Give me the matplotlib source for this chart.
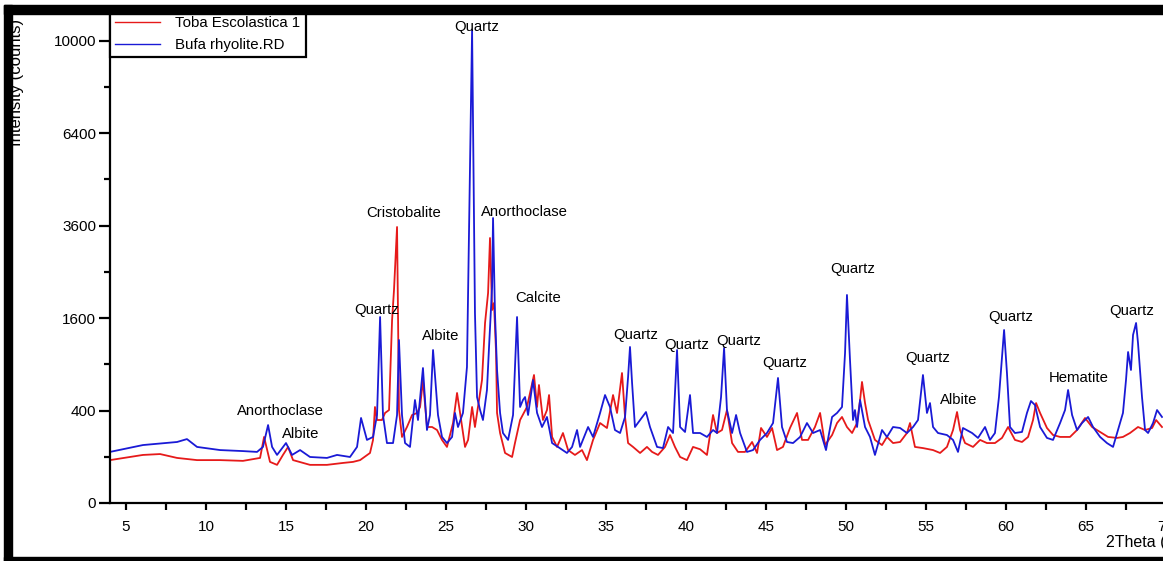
import numpy as np
import matplotlib.pyplot as plt
from matplotlib.patches import Rectangle
from matplotlib.ticker import FixedLocator

# values (2theta in degrees, counts)
toba_theta = [4.0, 6.06, 7.13, 8.19, 9.44, 10.88, 12.31, 13.38, 13.63, 14.0,
              14.44, 14.81, 15.13, 15.44, 16.5, 17.56, 18.56, 19.19, 19.63, 20.25,
              20.44, 20.56, 20.69, 21.0, 21.19, 21.44, 21.63, 21.75, 21.94, 22.0,
              22.06, 22.25, 22.56, 22.88, 23.19, 23.38, 23.56, 23.81, 24.13, 24.44,
              24.75, 25.06, 25.44, 25.69, 25.88, 26.19, 26.38, 26.63, 26.81, 27.0,
              27.25, 27.44, 27.63, 27.75, 27.88, 28.0, 28.13, 28.19, 28.38, 28.69,
              29.13, 29.31, 29.63, 30.06, 30.5, 30.69, 30.81, 31.06, 31.31, 31.44,
              31.63, 31.94, 32.31, 32.63, 33.06, 33.5, 33.81, 34.19, 34.63, 35.06,
              35.44, 35.69, 36.0, 36.19, 36.38, 36.69, 37.13, 37.56, 37.88, 38.25,
              38.69, 39.0, 39.31, 39.63, 40.06, 40.44, 40.88, 41.31, 41.69, 41.94,
              42.25, 42.56, 42.88, 43.25, 43.69, 44.13, 44.44, 44.69, 45.06, 45.38,
              45.69, 46.06, 46.5, 46.94, 47.25, 47.63, 48.06, 48.38, 48.69, 49.13,
              49.44, 49.75, 50.06, 50.38, 50.69, 50.88, 51.0, 51.19, 51.38, 51.81,
              52.25, 52.56, 52.94, 53.38, 53.81, 54.0, 54.31, 54.81, 55.44, 55.88,
              56.31, 56.69, 56.94, 57.13, 57.44, 57.94, 58.38, 58.81, 59.31, 59.75,
              60.13, 60.56, 61.0, 61.38, 61.69, 61.88, 62.13, 62.56, 62.94, 63.38,
              64.0, 64.44, 64.94, 65.38, 65.88, 66.38, 66.94, 67.31, 67.75, 68.25,
              68.69, 69.13, 69.38, 69.75]
toba_counts = [86, 108, 112, 95, 86, 86, 83, 95, 204, 79,
               68, 108, 147, 86, 68, 68, 75, 79, 86, 117,
               186, 431, 322, 322, 379, 404, 1566, 2121, 3561, 1688,
               404, 204, 270, 362, 379, 431, 707, 270, 270, 249,
               186, 147, 299, 566, 379, 147, 186, 431, 270, 431,
               707, 1515, 2062, 3283, 1741, 1870, 1052, 379, 229, 117,
               99, 168, 322, 431, 766, 431, 651, 322, 404, 545,
               204, 147, 229, 131, 108, 131, 86, 186, 299, 263,
               545, 379, 790, 346, 168, 147, 117, 147, 122, 108,
               147, 216, 147, 99, 86, 147, 135, 108, 362, 229,
               249, 404, 168, 122, 122, 174, 117, 263, 204, 263,
               131, 147, 263, 379, 186, 186, 270, 379, 157, 216,
               299, 346, 270, 229, 299, 496, 685, 467, 322, 186,
               157, 204, 168, 174, 229, 299, 147, 141, 131, 117,
               147, 249, 387, 249, 168, 147, 186, 168, 168, 198,
               270, 186, 174, 204, 322, 467, 379, 263, 216, 204,
               204, 249, 338, 270, 236, 204, 198, 204, 229, 270,
               249, 263, 322, 270]

bufa_theta = [4.0, 6.06, 8.19, 8.81, 9.44, 10.88, 12.31, 13.19, 13.56, 13.88,
              14.13, 14.44, 15.0, 15.38, 15.88, 16.5, 17.56, 18.19, 19.0, 19.44,
              19.69, 20.06, 20.44, 20.69, 20.88, 21.06, 21.31, 21.69, 21.94, 22.06,
              22.25, 22.44, 22.75, 23.06, 23.25, 23.56, 23.81, 24.0, 24.19, 24.5,
              24.75, 25.06, 25.38, 25.56, 25.75, 26.06, 26.31, 26.63, 26.81, 26.94,
              27.13, 27.31, 27.56, 27.69, 27.88, 27.94, 28.06, 28.19, 28.38, 28.56,
              28.88, 29.19, 29.44, 29.63, 29.81, 29.94, 30.13, 30.44, 30.69, 31.0,
              31.31, 31.63, 32.0, 32.56, 32.88, 33.19, 33.38, 33.88, 34.19, 34.63,
              34.94, 35.25, 35.56, 35.88, 36.19, 36.38, 36.5, 36.63, 36.81, 37.13,
              37.5, 37.75, 38.19, 38.56, 38.88, 39.19, 39.44, 39.63, 39.94, 40.25,
              40.44, 40.88, 41.31, 41.69, 41.94, 42.19, 42.38, 42.56, 42.88, 43.13,
              43.38, 43.81, 44.19, 44.63, 45.06, 45.44, 45.75, 46.0, 46.31, 46.69,
              47.13, 47.56, 47.94, 48.38, 48.75, 49.13, 49.44, 49.75, 49.94, 50.06,
              50.25, 50.44, 50.56, 50.69, 50.88, 51.19, 51.5, 51.81, 52.25, 52.56,
              52.94, 53.38, 53.81, 54.19, 54.5, 54.81, 55.06, 55.25, 55.44, 55.75,
              56.31, 56.69, 57.0, 57.31, 57.88, 58.25, 58.69, 59.0, 59.31, 59.56,
              59.88, 60.06, 60.25, 60.56, 61.0, 61.31, 61.56, 61.81, 62.13, 62.56,
              62.94, 63.38, 63.69, 63.88, 64.13, 64.44, 64.75, 65.13, 65.44, 65.88,
              66.31, 66.69, 67.0, 67.31, 67.5, 67.63, 67.81, 67.94, 68.13, 68.25,
              68.5, 68.69, 68.88, 69.19, 69.44, 69.75]
bufa_counts = [122, 157, 174, 191, 147, 131, 126, 122, 147, 284,
               147, 108, 168, 108, 131, 99, 95, 108, 99, 147,
               338, 186, 204, 362, 1617, 362, 168, 168, 362, 1242,
               362, 168, 147, 496, 322, 852, 249, 362, 1094, 362,
               204, 168, 204, 379, 270, 379, 865, 10459, 1688, 525,
               404, 322, 597, 1138, 2181, 3797, 1688, 827, 379, 229,
               186, 362, 1617, 431, 496, 525, 362, 707, 380, 270,
               346, 168, 147, 117, 147, 249, 147, 270, 204, 379,
               545, 431, 249, 229, 346, 742, 1138, 673, 270, 322,
               387, 270, 147, 141, 270, 229, 1094, 270, 236, 545,
               229, 229, 204, 249, 229, 525, 1123, 404, 229, 362,
               229, 122, 131, 186, 229, 299, 731, 270, 174, 168,
               204, 299, 229, 249, 131, 346, 379, 431, 1052, 2023,
               956, 322, 404, 270, 496, 270, 204, 108, 249, 204,
               270, 263, 229, 270, 322, 766, 379, 467, 270, 229,
               216, 186, 122, 263, 229, 198, 270, 186, 229, 525,
               1399, 790, 270, 229, 236, 379, 486, 449, 270, 198,
               186, 299, 404, 597, 362, 249, 299, 346, 270, 204,
               168, 147, 249, 379, 707, 1066, 827, 1320, 1515, 1197,
               525, 249, 229, 299, 404, 346]

peak_names = ['Quartz', 'Cristobalite', 'Anorthoclase', 'Quartz', 'Albite',
              'Calcite', 'Quartz', 'Quartz', 'Quartz', 'Quartz', 'Quartz',
              'Quartz', 'Albite', 'Quartz', 'Hematite', 'Quartz',
              'Anorthoclase', 'Albite']
peak_theta = [26.94, 22.38, 29.88, 20.69, 24.69, 30.75, 36.88, 40.06, 43.31,
              46.19, 50.44, 55.13, 57.06, 60.31, 64.56, 67.88, 14.63, 15.94]
peak_counts = [10593, 3932, 3960, 1741, 1304, 1965, 1320, 1167, 1227,
               916, 2560, 983, 496, 1617, 730, 1723, 396, 223]

y_major = [0, 400, 1600, 3600, 6400, 10000]
y_minor = [100, 900, 2500, 4900, 8100]

W, H = 1163, 561
plt.rcParams['font.family'] = ['Liberation Sans', 'DejaVu Sans']

fig = plt.figure(figsize=(W / 100, H / 100), dpi=100)
ax = fig.add_axes([110 / W, 58 / H, 1088 / W, 489 / H])

ax.plot(toba_theta, toba_counts, color='#e61a1a', lw=1.3,
        label='Toba Escolastica 1')
ax.plot(bufa_theta, bufa_counts, color='#1a1ad6', lw=1.3,
        label='Bufa rhyolite.RD')

for name, x, y in zip(peak_names, peak_theta, peak_counts):
    ax.text(x, y, name, ha='center', va='center', fontsize=10.7)

# square-root intensity axis
ax.set_yscale('function', functions=(lambda v: np.sqrt(np.maximum(v, 0)),
                                     lambda v: np.square(v)))
ax.set_ylim(0, 11179)
ax.set_xlim(4, 72)
ax.yaxis.set_major_locator(FixedLocator(y_major))
ax.yaxis.set_minor_locator(FixedLocator(y_minor))
ax.set_yticklabels([str(v) for v in y_major])
ax.set_xticks(np.arange(5, 75, 5))
ax.set_xticks(np.arange(7.5, 72, 5), minor=True)

for s in ['top', 'right']:
    ax.spines[s].set_visible(False)
for s in ['left', 'bottom']:
    ax.spines[s].set_linewidth(1.6)
ax.tick_params(axis='y', which='major', length=8, width=1.6, labelsize=11, pad=2)
ax.tick_params(axis='y', which='minor', length=4, width=1.6)
ax.tick_params(axis='x', which='both', length=5, width=1.6, labelsize=11, pad=7)

leg = ax.legend(loc='upper left', bbox_to_anchor=(110 / W, 1 - 11 / H),
                bbox_transform=fig.transFigure, fancybox=False,
                edgecolor='black', borderaxespad=0, handlelength=3,
                handletextpad=1.0, borderpad=0.35, labelspacing=0.5,
                fontsize=10.8, framealpha=1)
leg.get_frame().set_linewidth(1.6)
for line in leg.get_lines():
    line.set_linewidth(1.0)

fig.text(17 / W, 1 - 82 / H, 'Intensity (counts)', rotation=90,
         ha='center', va='center', fontsize=12)
fig.text(1106 / W, 1 - 543 / H, '2Theta (°)', ha='left', va='center',
         fontsize=11.5)

# black frame of the screenshot
for x0, y0, w, h in [(4, 5, W, 9), (4, 5, 8, 556), (4, 557, W, 4)]:
    fig.add_artist(Rectangle((x0 / W, 1 - (y0 + h) / H), w / W, h / H,
                             transform=fig.transFigure, color='black',
                             zorder=10))

fig.savefig('out.png', dpi=100)
